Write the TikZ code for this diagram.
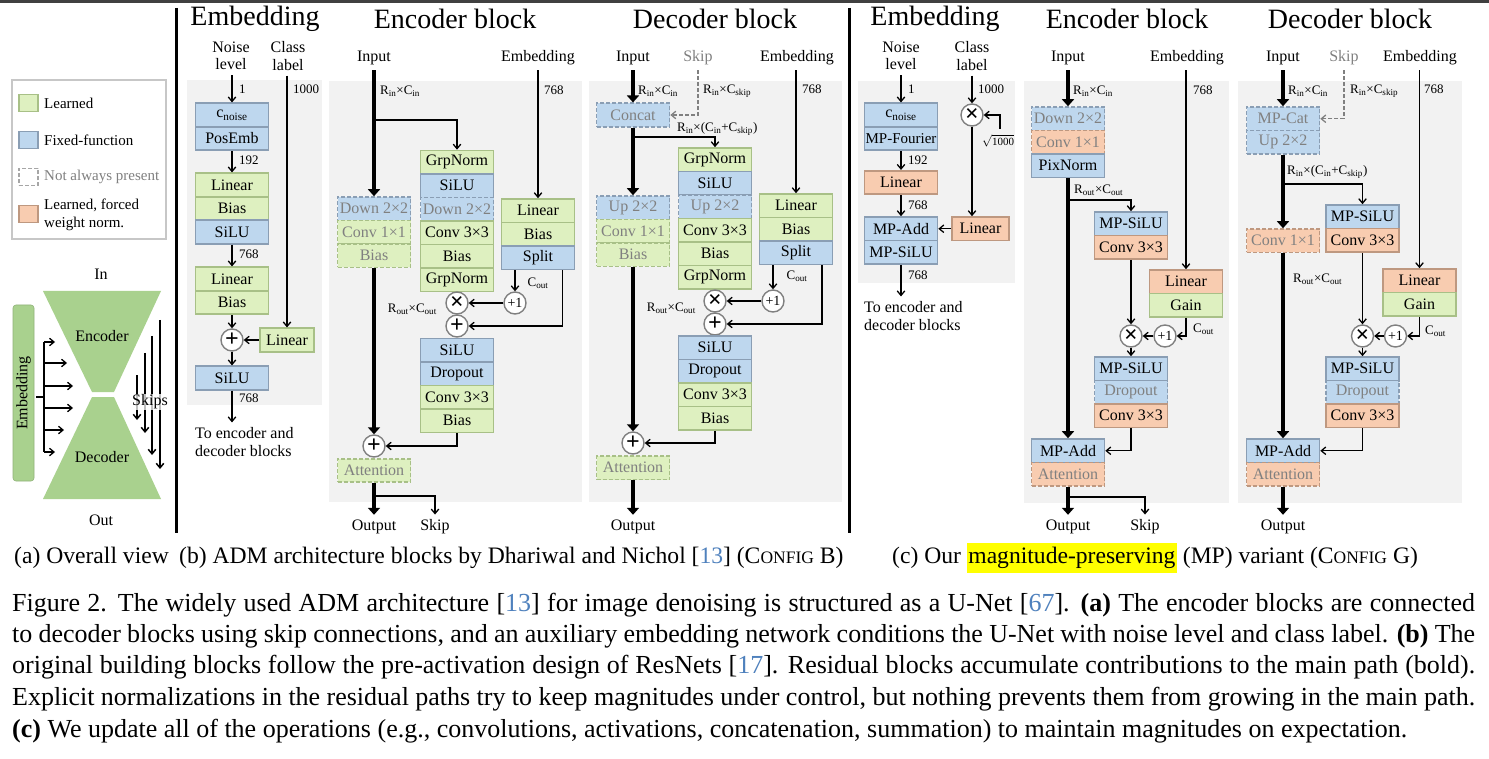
\documentclass[tikz,border=0pt]{standalone}
\usepackage{fontspec}
\setmainfont{Liberation Serif}
\usetikzlibrary{arrows.meta}

\definecolor{lrnfill}{RGB}{222,240,192}
\definecolor{lrnline}{RGB}{168,192,135}
\definecolor{fixfill}{RGB}{190,215,238}
\definecolor{fixline}{RGB}{138,158,180}
\definecolor{wnfill}{RGB}{248,204,176}
\definecolor{wnline}{RGB}{190,152,128}
\definecolor{bggray}{RGB}{242,242,242}
\definecolor{optgray}{RGB}{128,128,128}
\definecolor{unetgreen}{RGB}{169,209,142}
\definecolor{citeblue}{RGB}{79,129,189}
\definecolor{hlyellow}{RGB}{255,255,0}

\newcommand{\refnum}[1]{[\textcolor{citeblue}{#1}]}
\newcommand{\confname}[1]{C{\fontsize{17.5}{17.5}\selectfont ONFIG}~#1}

\begin{document}
\begin{tikzpicture}[x=1pt,y=-1pt]
\tikzset{
  box/.style={draw, line width=1.6pt, minimum width=73pt, minimum height=23.5pt, inner sep=0pt, font=\fontsize{16}{18}\selectfont},
  learned/.style={box, fill=lrnfill, draw=lrnline},
  fixed/.style={box, fill=fixfill, draw=fixline},
  forced/.style={box, fill=wnfill, draw=wnline},
  optional/.style={dash pattern=on 4pt off 2pt, text=optgray},
  opcirc/.style={circle, draw=optgray, fill=white, line width=1.4pt, minimum size=22pt, inner sep=0pt, font=\bfseries\fontsize{24}{24}\selectfont},
  heading/.style={font=\fontsize{28}{30}\selectfont},
  io/.style={font=\fontsize{16}{17.5}\selectfont, align=center, inner xsep=1pt, inner ysep=5pt},
  dimlabel/.style={font=\fontsize{13}{14}\selectfont, inner sep=0pt},
  legendtext/.style={font=\fontsize{15}{18}\selectfont, align=left, anchor=west, inner sep=0pt},
  subcap/.style={font=\fontsize{23.6}{27}\selectfont, inner sep=0pt},
  captext/.style={font=\fontsize{26}{30}\selectfont, inner sep=0pt},
  thinline/.style={line width=1.3pt},
  arr/.style={line width=1.3pt, -{Straight Barb[length=4.5pt,width=7.5pt]}},
  mainarr/.style={line width=4.5pt, -{Triangle[length=7pt,width=12pt]}},
}
\useasboundingbox (0,0) rectangle (1489,759);
\fill[white] (0,0) rectangle (1489,759);
\fill[black!75] (0,0) rectangle (1489,3.5);

% (a) overall view
\draw[line width=1.5pt, draw=black!22] (12,80) rectangle (166,239);
\node[learned, line width=1.4pt, minimum width=19pt, minimum height=17pt] (keyl) at (28.5,103) {};
\node[fixed, line width=1.4pt, minimum width=19pt, minimum height=17pt] (keyf) at (28.5,140) {};
\node[box, draw=optgray!70, optional, line width=1.4pt, minimum width=19pt, minimum height=17pt] (keyo) at (28.5,177) {};
\node[forced, line width=1.4pt, minimum width=19pt, minimum height=17pt] (keyw) at (28.5,214) {};
\node[legendtext] (keyltxt) at (44,103) {Learned};
\node[legendtext] (keyftxt) at (44,140) {Fixed-function};
\node[legendtext, text=optgray] (keyotxt) at (44,177) {Not always present};
\node[legendtext] (keywtxt) at (44,215) {Learned, forced\\weight norm.};

\fill[unetgreen] (43,291) -- (161,291) -- (114,392) -- (92,392) -- cycle;
\fill[unetgreen] (92,397) -- (114,397) -- (161,499) -- (43,499) -- cycle;
\node[io] (unetin) at (101,274) {In};
\node[io] (unetout) at (101,520) {Out};
\node[io] (unetenc) at (102,336) {Encoder};
\node[io] (unetdec) at (102,457) {Decoder};
\node[io, rotate=90, fill=unetgreen, draw=unetgreen!85!black, line width=0.6pt, rounded corners=3pt, minimum width=176pt, minimum height=21pt, inner ysep=0pt] (unetemb) at (23.5,393) {Embedding};
\coordinate (embfork) at (44,397);
\draw[thinline] (36,397) -- (embfork);
\draw[thinline] (44,342) -- (44,452);
\foreach \y/\x in {342/55, 363/67, 386/73, 408/73, 430/64, 452/55}
  \draw[arr] (44,\y) -- (\x,\y);
\foreach \x/\a/\b in {137/375/420, 145/353/433, 152/336/455, 160/320/469}
  \draw[arr, line width=1.5pt] (\x,\a) -- (\x,\b);
\node[io, fill=white, fill opacity=0.75, text opacity=1, inner sep=1pt] (unetskips) at (150,402) {Skips};

\draw[line width=3pt] (176,8) -- (176,533);
\draw[line width=3pt] (849,8) -- (849,533);

% (b) embedding
\fill[bggray] (187,80) rectangle (322,405);
\node[heading] (betitle) at (255,19) {Embedding};
\node[io] (benoise) at (231,56) {Noise\\level};
\node[io] (beclass) at (288,56) {Class\\label};
\node[fixed] (becn) at (232,115) {c\textsubscript{noise}};
\node[fixed] (bepos) at (232,138.5) {PosEmb};
\node[learned] (belin1) at (232,185) {Linear};
\node[learned] (bebias1) at (232,208.5) {Bias};
\node[fixed] (besilu1) at (232,232) {SiLU};
\node[learned] (belin2) at (232,279) {Linear};
\node[learned] (bebias2) at (232,302.5) {Bias};
\node[opcirc] (beadd) at (232,340) {+};
\node[learned, minimum width=54pt] (belc) at (287,340) {Linear};
\node[fixed] (besilu2) at (232,378) {SiLU};
\node[io, align=left, anchor=west, inner xsep=0pt] (beto) at (195,442) {To encoder and\\decoder blocks};
\draw[arr] (benoise.south -| becn.north) -- (becn.north);
\draw[arr] (bepos.south) -- (belin1.north);
\draw[arr] (besilu1.south) -- (belin2.north);
\draw[arr] (bebias2.south) -- (beadd.north);
\draw[arr] (beclass.south -| belc.north) -- (belc.north);
\draw[arr] (belc.west) -- (beadd.east);
\draw[arr] (beadd.south) -- (besilu2.north);
\draw[arr] (besilu2.south) -- (besilu2.south |- beto.north);
\node[dimlabel, anchor=west] at (239,89) {1};
\node[dimlabel, anchor=west] at (239,160) {192};
\node[dimlabel, anchor=west] at (239,254) {768};
\node[dimlabel, anchor=west] at (239,398) {768};
\node[dimlabel, anchor=west] at (293,89) {1000};

% (b) encoder block
\fill[bggray] (329,81) rectangle (582,502);
\node[heading] (bntitle) at (455,19) {Encoder block};
\node[io] (bnin) at (374,58) {Input};
\node[io] (bnemb) at (538,58) {Embedding};
\node[fixed, optional] (bndown1) at (374,208.75) {Down 2×2};
\node[learned, optional] (bnconv1) at (374,232.25) {Conv 1×1};
\node[learned, optional] (bnbias1) at (374,255.75) {Bias};
\node[learned] (bngn1) at (457,162.25) {GrpNorm};
\node[fixed] (bnsilu1) at (457,185.75) {SiLU};
\node[fixed, optional] (bndown2) at (457,209.25) {Down 2×2};
\node[learned] (bnconv2) at (457,232.75) {Conv 3×3};
\node[learned] (bnbias2) at (457,256.25) {Bias};
\node[learned] (bngn2) at (457,279.75) {GrpNorm};
\node[opcirc] (bnmul) at (457,303) {×};
\node[opcirc] (bnres) at (457,326) {+};
\node[fixed] (bnsilu2) at (457,350.25) {SiLU};
\node[fixed] (bndrop) at (457,373.75) {Dropout};
\node[learned] (bnconv3) at (457,397.25) {Conv 3×3};
\node[learned] (bnbias3) at (457,420.75) {Bias};
\node[learned] (bnlin) at (538,210.75) {Linear};
\node[learned] (bnbias4) at (538,234.25) {Bias};
\node[fixed] (bnsplit) at (538,257.75) {Split};
\node[opcirc, font=\fontsize{14}{14}\selectfont] (bnone) at (515,303) {+1};
\node[opcirc] (bnadd) at (374,446) {+};
\node[learned, optional] (bnatt) at (374,470.5) {Attention};
\node[io] (bnout) at (374,527) {Output};
\node[io] (bnskip) at (435,527) {Skip};
\coordinate (bnfork) at (374,120);
\coordinate (bnskipfork) at (374,496);
\draw[mainarr] (bnin.south) -- (bndown1.north);
\draw[arr] (bnfork) -| (bngn1.north);
\draw[mainarr] (bnbias1.south) -- (bnadd.north);
\draw[arr] (bnemb.south -| bnlin.north) -- (bnlin.north);
\draw[arr] (bnsplit.south -| bnone.north) -- (bnone.north);
\draw[arr] ([xshift=24.5pt]bnsplit.south) |- (bnres.east);
\draw[arr] (bnone.west) -- (bnmul.east);
\draw[arr] (bnbias3.south) |- (bnadd.east);
\draw[mainarr] (bnatt.south) -- (bnout.north);
\draw[arr] (bnskipfork) -| (bnskip.north);
\node[dimlabel, anchor=west] at (380,91) {R\textsubscript{in}×C\textsubscript{in}};
\node[dimlabel, anchor=west] at (544,90) {768};
\node[dimlabel] at (538,283) {C\textsubscript{out}};
\node[dimlabel, anchor=east] at (437,309) {R\textsubscript{out}×C\textsubscript{out}};

% (b) decoder block
\fill[bggray] (589,81) rectangle (842,502);
\node[heading] (bdtitle) at (715,19) {Decoder block};
\node[io] (bdin) at (633,58) {Input};
\node[io, text=optgray] (bdskipin) at (698,58) {Skip};
\node[io] (bdemb) at (797,58) {Embedding};
\node[fixed, optional] (bdcat) at (633,115) {Concat};
\node[fixed, optional] (bdup1) at (633,207.75) {Up 2×2};
\node[learned, optional] (bdconv1) at (633,231.25) {Conv 1×1};
\node[learned, optional] (bdbias1) at (633,254.75) {Bias};
\node[learned] (bdgn1) at (715,159.75) {GrpNorm};
\node[fixed] (bdsilu1) at (715,183.25) {SiLU};
\node[fixed, optional] (bdup2) at (715,206.75) {Up 2×2};
\node[learned] (bdconv2) at (715,230.25) {Conv 3×3};
\node[learned] (bdbias2) at (715,253.75) {Bias};
\node[learned] (bdgn2) at (715,277.25) {GrpNorm};
\node[opcirc] (bdmul) at (715,301) {×};
\node[opcirc] (bdres) at (715,324) {+};
\node[fixed] (bdsilu2) at (715,347.75) {SiLU};
\node[fixed] (bddrop) at (715,371.25) {Dropout};
\node[learned] (bdconv3) at (715,394.75) {Conv 3×3};
\node[learned] (bdbias3) at (715,418.25) {Bias};
\node[learned] (bdlin) at (796,205.75) {Linear};
\node[learned] (bdbias4) at (796,229.25) {Bias};
\node[fixed] (bdsplit) at (796,252.75) {Split};
\node[opcirc, font=\fontsize{14}{14}\selectfont] (bdone) at (773,301) {+1};
\node[opcirc] (bdadd) at (633,443) {+};
\node[learned, optional] (bdatt) at (633,467.75) {Attention};
\node[io] (bdout) at (633,527) {Output};
\coordinate (bdfork) at (633,137);
\draw[mainarr] (bdin.south) -- (bdcat.north);
\draw[arr, draw=optgray, dash pattern=on 4pt off 2pt] (bdskipin.south) |- (bdcat.east);
\draw[mainarr] (bdcat.south) -- (bdup1.north);
\draw[arr] (bdfork) -| (bdgn1.north);
\draw[mainarr] (bdbias1.south) -- (bdadd.north);
\draw[arr] (bdemb.south -| bdlin.north) -- (bdlin.north);
\draw[arr] (bdsplit.south -| bdone.north) -- (bdone.north);
\draw[arr] ([xshift=26pt]bdsplit.south) |- (bdres.east);
\draw[arr] (bdone.west) -- (bdmul.east);
\draw[arr] (bdbias3.south) |- (bdadd.east);
\draw[mainarr] (bdatt.south) -- (bdout.north);
\node[dimlabel, anchor=west] at (638,91) {R\textsubscript{in}×C\textsubscript{in}};
\node[dimlabel, anchor=west] at (703,91) {R\textsubscript{in}×C\textsubscript{skip}};
\node[dimlabel, anchor=west] at (677,129) {R\textsubscript{in}×(C\textsubscript{in}+C\textsubscript{skip})};
\node[dimlabel, anchor=west] at (802,89) {768};
\node[dimlabel] at (797,276) {C\textsubscript{out}};
\node[dimlabel, anchor=east] at (696,308) {R\textsubscript{out}×C\textsubscript{out}};

% (c) embedding
\fill[bggray] (858,81) rectangle (1015,283);
\node[heading] (cetitle) at (935,19) {Embedding};
\node[io] (cenoise) at (901,56) {Noise\\level};
\node[io] (ceclass) at (972,56) {Class\\label};
\node[fixed] (cecn) at (901,115) {c\textsubscript{noise}};
\node[fixed, font=\fontsize{15}{17}\selectfont] (cefour) at (901,138.5) {MP-Fourier};
\node[forced] (celin) at (901,182.5) {Linear};
\node[fixed] (ceadd) at (901,228.75) {MP-Add};
\node[fixed] (cesilu) at (901,252.25) {MP-SiLU};
\node[opcirc] (cemul) at (972,115) {×};
\node[forced, minimum width=57pt] (celc) at (980.5,228.75) {Linear};
\node[io, align=left, anchor=west, inner xsep=0pt] (ceto) at (864,316) {To encoder and\\decoder blocks};
\coordinate (cesqrt) at (1000,129);
\draw[arr] (cenoise.south -| cecn.north) -- (cecn.north);
\draw[arr] (cefour.south) -- (celin.north);
\draw[arr] (celin.south) -- (ceadd.north);
\draw[arr] (cesilu.south) -- (cesilu.south |- ceto.north);
\draw[arr] (ceclass.south -| cemul.north) -- (cemul.north);
\draw[arr] (cesqrt) |- (cemul.east);
\draw[arr] (cemul.south) -- (cemul.south |- celc.north);
\draw[arr] (celc.west) -- (ceadd.east);
\node[dimlabel, anchor=west] at (908,89) {1};
\node[dimlabel, anchor=west] at (908,160) {192};
\node[dimlabel, anchor=west] at (908,205) {768};
\node[dimlabel, anchor=west] at (908,275) {768};
\node[dimlabel, anchor=west] at (978,89) {1000};
\node[dimlabel] at (998,141) {$\sqrt{\hbox{\fontsize{11}{11}\selectfont 1000}}$};

% (c) encoder block
\fill[bggray] (1024,81) rectangle (1229,503);
\node[heading] (cntitle) at (1127,19) {Encoder block};
\node[io] (cnin) at (1068,58) {Input};
\node[io] (cnemb) at (1187,58) {Embedding};
\node[fixed, optional] (cndown) at (1068,118.75) {Down 2×2};
\node[forced, optional] (cnconv1) at (1068,142.25) {Conv 1×1};
\node[fixed] (cnpix) at (1068,165.75) {PixNorm};
\node[fixed] (cnsilu1) at (1131,223.75) {MP-SiLU};
\node[forced] (cnconv2) at (1131,247.25) {Conv 3×3};
\node[forced] (cnlin) at (1186,281.75) {Linear};
\node[learned] (cngain) at (1186,305.25) {Gain};
\node[opcirc] (cnmul) at (1131,336) {×};
\node[opcirc, font=\fontsize{14}{14}\selectfont] (cnone) at (1165,336) {+1};
\node[fixed] (cnsilu2) at (1131,368.75) {MP-SiLU};
\node[fixed, optional] (cndrop) at (1131,392.25) {Dropout};
\node[forced] (cnconv3) at (1131,415.75) {Conv 3×3};
\node[fixed] (cnadd) at (1068,450.75) {MP-Add};
\node[forced, optional] (cnatt) at (1068,474.25) {Attention};
\node[io] (cnout) at (1068,527) {Output};
\node[io] (cnskip) at (1145,527) {Skip};
\coordinate (cnfork) at (1068,200);
\coordinate (cnskipfork) at (1068,497);
\draw[mainarr] (cnin.south) -- (cndown.north);
\draw[mainarr] (cnpix.south) -- (cnadd.north);
\draw[arr] (cnfork) -| (cnsilu1.north);
\draw[arr] (cnconv2.south) -- (cnmul.north);
\draw[arr] (cnemb.south -| cnlin.north) -- (cnlin.north);
\draw[arr] (cngain.south) |- (cnone.east);
\draw[arr] (cnone.west) -- (cnmul.east);
\draw[arr] (cnmul.south) -- (cnsilu2.north);
\draw[arr] (cnconv3.south) |- (cnadd.east);
\draw[mainarr] (cnatt.south) -- (cnout.north);
\draw[arr] (cnskipfork) -| (cnskip.north);
\node[dimlabel, anchor=west] at (1073,91) {R\textsubscript{in}×C\textsubscript{in}};
\node[dimlabel, anchor=west] at (1074,190) {R\textsubscript{out}×C\textsubscript{out}};
\node[dimlabel, anchor=west] at (1193,90) {768};
\node[dimlabel, anchor=west] at (1193,329) {C\textsubscript{out}};

% (c) decoder block
\fill[bggray] (1238,81) rectangle (1462,503);
\node[heading] (cdtitle) at (1350,19) {Decoder block};
\node[io] (cdin) at (1283,58) {Input};
\node[io, text=optgray] (cdskipin) at (1344,58) {Skip};
\node[io] (cdemb) at (1420,58) {Embedding};
\node[fixed, optional] (cdcat) at (1283,118.75) {MP-Cat};
\node[fixed, optional] (cdup) at (1283,142.25) {Up 2×2};
\node[forced, optional] (cdconv1) at (1283,240.75) {Conv 1×1};
\node[fixed] (cdsilu1) at (1362.5,216.75) {MP-SiLU};
\node[forced] (cdconv2) at (1362.5,240.25) {Conv 3×3};
\node[forced] (cdlin) at (1419.5,280.75) {Linear};
\node[learned] (cdgain) at (1419.5,304.25) {Gain};
\node[opcirc] (cdmul) at (1362.5,336) {×};
\node[opcirc, font=\fontsize{14}{14}\selectfont] (cdone) at (1395.5,336) {+1};
\node[fixed] (cdsilu2) at (1362.5,368.75) {MP-SiLU};
\node[fixed, optional] (cddrop) at (1362.5,392.25) {Dropout};
\node[forced] (cdconv3) at (1362.5,415.75) {Conv 3×3};
\node[fixed] (cdadd) at (1283,450.75) {MP-Add};
\node[forced, optional] (cdatt) at (1283,474.25) {Attention};
\node[io] (cdout) at (1283,527) {Output};
\coordinate (cdfork) at (1283,184);
\draw[mainarr] (cdin.south) -- (cdcat.north);
\draw[arr, draw=optgray, dash pattern=on 4pt off 2pt] (cdskipin.south) |- (cdcat.east);
\draw[mainarr] (cdup.south) -- (cdconv1.north);
\draw[mainarr] (cdconv1.south) -- (cdadd.north);
\draw[arr] (cdfork) -| (cdsilu1.north);
\draw[arr] (cdconv2.south) -- (cdmul.north);
\draw[arr] (cdemb.south -| cdlin.north) -- (cdlin.north);
\draw[arr] (cdgain.south) |- (cdone.east);
\draw[arr] (cdone.west) -- (cdmul.east);
\draw[arr] (cdmul.south) -- (cdsilu2.north);
\draw[arr] (cdconv3.south) |- (cdadd.east);
\draw[mainarr] (cdatt.south) -- (cdout.north);
\node[dimlabel, anchor=west] at (1288,91) {R\textsubscript{in}×C\textsubscript{in}};
\node[dimlabel, anchor=west] at (1350,91) {R\textsubscript{in}×C\textsubscript{skip}};
\node[dimlabel, anchor=west] at (1287,172) {R\textsubscript{in}×(C\textsubscript{in}+C\textsubscript{skip})};
\node[dimlabel, anchor=west] at (1293,279) {R\textsubscript{out}×C\textsubscript{out}};
\node[dimlabel, anchor=west] at (1424,89) {768};
\node[dimlabel, anchor=west] at (1425,331) {C\textsubscript{out}};

% captions
\node[subcap, anchor=base west] (capa) at (14,563) {(a) Overall view};
\node[subcap, anchor=base west] (capb) at (179,563) {(b) ADM architecture blocks by Dhariwal and Nichol \refnum{13} (\confname{B})};
\node[subcap, anchor=base west] (capc) at (892,563) {\setlength{\fboxsep}{1.5pt}(c) Our \colorbox{hlyellow}{\strut magnitude-preserving} (MP) variant (\confname{G})};
\node[captext, anchor=base west] (fig1) at (12,611) {\makebox[1463pt][s]{Figure 2. The widely used ADM architecture \refnum{13} for image denoising is structured as a U-Net \refnum{67}. \textbf{(a)} The encoder blocks are connected}};
\node[captext, anchor=base west] (fig2) at (12,642) {\makebox[1463pt][s]{to decoder blocks using skip connections, and an auxiliary embedding network conditions the U-Net with noise level and class label. \textbf{(b)} The}};
\node[captext, anchor=base west] (fig3) at (12,673) {\makebox[1463pt][s]{original building blocks follow the pre-activation design of ResNets \refnum{17}. Residual blocks accumulate contributions to the main path (bold).}};
\node[captext, anchor=base west] (fig4) at (12,705) {\makebox[1463pt][s]{Explicit normalizations in the residual paths try to keep magnitudes under control, but nothing prevents them from growing in the main path.}};
\node[captext, anchor=base west] (fig5) at (12,737) {\textbf{(c)} We update all of the operations (e.g., convolutions, activations, concatenation, summation) to maintain magnitudes on expectation.};
\end{tikzpicture}
\end{document}
